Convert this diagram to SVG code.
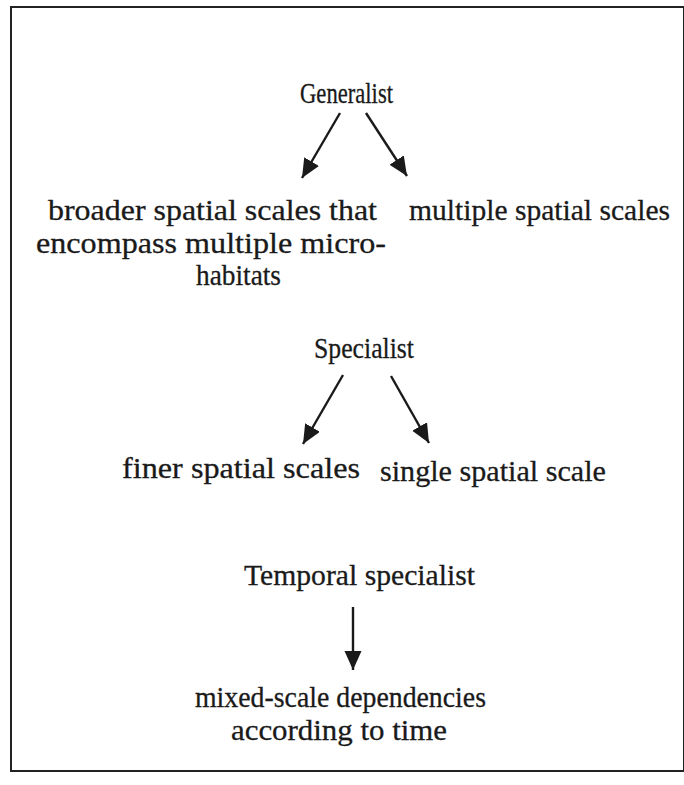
<svg xmlns="http://www.w3.org/2000/svg" width="684" height="785" viewBox="0 0 684 785">
<style>
  text { font-family: "Liberation Serif", "Times New Roman", serif; fill: #1a1a1a; stroke: #1a1a1a; stroke-width: 0.3; }
  .t { font-size: 29px; }
  .b { font-size: 30px; }
  .conn line { stroke: #1a1a1a; stroke-width: 2.4; marker-end: url(#ah); }
</style>
<defs>
  <marker id="ah" markerUnits="userSpaceOnUse" markerWidth="20" markerHeight="18" refX="19" refY="8.5" orient="auto">
    <path d="M0,0 L19,8.5 L0,17 z" fill="#1a1a1a"/>
  </marker>
</defs>
<rect x="11" y="7" width="673" height="764" fill="#fff" stroke="#222" stroke-width="2"/>
<g id="generalist"><text class="t" x="300" y="103" textLength="93" lengthAdjust="spacingAndGlyphs">Generalist</text></g>
<g id="broader">
  <text class="b" x="48" y="220" textLength="329" lengthAdjust="spacingAndGlyphs">broader spatial scales that</text>
  <text class="b" x="36" y="253" textLength="350" lengthAdjust="spacingAndGlyphs">encompass multiple micro-</text>
  <text class="b" x="196" y="285" textLength="85" lengthAdjust="spacingAndGlyphs">habitats</text>
</g>
<g id="multiple"><text class="b" x="409" y="220" textLength="261" lengthAdjust="spacingAndGlyphs">multiple spatial scales</text></g>
<g id="specialist"><text class="b" x="314" y="358" textLength="100" lengthAdjust="spacingAndGlyphs">Specialist</text></g>
<g id="finer"><text class="b" x="122" y="478" textLength="238" lengthAdjust="spacingAndGlyphs">finer spatial scales</text></g>
<g id="single"><text class="b" x="380" y="481" textLength="226" lengthAdjust="spacingAndGlyphs">single spatial scale</text></g>
<g id="temporal"><text class="b" x="244" y="585" textLength="231" lengthAdjust="spacingAndGlyphs">Temporal specialist</text></g>
<g id="mixed">
  <text class="b" x="195" y="707" textLength="291" lengthAdjust="spacingAndGlyphs">mixed-scale dependencies</text>
  <text class="b" x="231" y="740" textLength="216" lengthAdjust="spacingAndGlyphs">according to time</text>
</g>
<g id="connectors" class="conn">
  <line x1="340" y1="113" x2="302" y2="178"/>
  <line x1="366" y1="113" x2="407" y2="176"/>
  <line x1="343" y1="375" x2="303" y2="444"/>
  <line x1="391" y1="376" x2="429" y2="443"/>
  <line x1="353" y1="607" x2="353" y2="670"/>
</g>
</svg>
